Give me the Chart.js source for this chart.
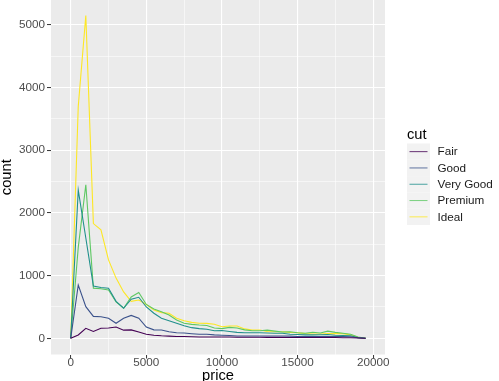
<!DOCTYPE html>
<html>
<head>
<meta charset="utf-8">
<script src="https://cdn.jsdelivr.net/npm/chart.js@4.4.1/dist/chart.umd.min.js"></script>
<style>
  html, body { margin: 0; padding: 0; background: #fff; }
  #wrap { width: 499px; height: 381px; position: relative; }
</style>
</head>
<body>
<div id="wrap"><canvas id="chart" width="499" height="381"></canvas></div>
<script>
// freqpoly of price by cut (binwidth 500), counts
const prices = [0, 500, 1000, 1500, 2000, 2500, 3000, 3500, 4000, 4500,
  5000, 5500, 6000, 6500, 7000, 7500, 8000, 8500, 9000, 9500,
  10000, 10500, 11000, 11500, 12000, 12500, 13000, 13500, 14000, 14500,
  15000, 15500, 16000, 16500, 17000, 17500, 18000, 18500, 19000, 19500];

const fair = [0, 53, 160, 110, 160, 165, 180, 130, 135, 100,
  65, 50, 40, 35, 30, 28, 25, 22, 22, 20,
  20, 20, 18, 18, 16, 16, 15, 15, 15, 14,
  14, 14, 12, 12, 12, 12, 10, 10, 4, 0];

const good = [0, 850, 505, 350, 345, 320, 240, 320, 365, 320,
  180, 135, 133, 106, 90, 85, 74, 65, 65, 55,
  50, 45, 38, 38, 38, 38, 38, 36, 36, 35,
  30, 30, 30, 30, 30, 30, 28, 26, 8, 0];

const veryGood = [0, 2365, 1600, 835, 810, 800, 590, 480, 625, 655,
  500, 400, 320, 280, 240, 200, 170, 155, 145, 120,
  125, 110, 95, 90, 90, 88, 85, 82, 80, 65,
  60, 55, 55, 58, 62, 50, 45, 40, 10, 0];

const premium = [0, 1450, 2450, 800, 790, 770, 580, 480, 660, 730,
  540, 467, 425, 372, 292, 239, 223, 212, 205, 165,
  155, 175, 165, 135, 120, 120, 130, 115, 100, 105,
  90, 80, 96, 85, 115, 95, 80, 65, 20, 0];

const ideal = [0, 3700, 5150, 1830, 1730, 1250, 960, 740, 590, 610,
  540, 450, 410, 400, 320, 280, 255, 240, 239, 225,
  185, 196, 196, 150, 132, 132, 110, 106, 106, 95,
  90, 75, 70, 70, 75, 75, 75, 55, 15, 0];

const cuts = ['Fair', 'Good', 'Very Good', 'Premium', 'Ideal'];
const cutColors = ['#440154', '#3B528B', '#21908C', '#5DC863', '#FDE725'];

const xMajor = [0, 5000, 10000, 15000, 20000];
const xMinor = [2500, 7500, 12500, 17500];
const yMajor = [0, 1000, 2000, 3000, 4000, 5000];
const yMinor = [500, 1500, 2500, 3500, 4500];

const FONT = '"Liberation Sans", Arial, sans-serif';

const series = [fair, good, veryGood, premium, ideal];

const panelBg = {
  id: 'panelBg',
  beforeDraw(chart) {
    const { ctx, chartArea: a } = chart;
    ctx.save();
    ctx.fillStyle = '#EBEBEB';
    ctx.fillRect(a.left, a.top, a.right - a.left, a.bottom - a.top);
    ctx.restore();
  }
};

const ggLegend = {
  id: 'ggLegend',
  afterDraw(chart) {
    const ctx = chart.ctx;
    const x0 = 407, keyW = 23, keyH = 16.3, top = 143.5;
    ctx.save();
    ctx.fillStyle = '#000';
    ctx.font = '14.7px ' + FONT;
    ctx.textBaseline = 'middle';
    ctx.fillText('cut', x0, 134.5);
    cuts.forEach((name, i) => {
      const y = top + i * keyH;
      ctx.fillStyle = '#F2F2F2';
      ctx.fillRect(x0, y, keyW, keyH);
      ctx.strokeStyle = cutColors[i];
      ctx.globalAlpha = 0.8;
      ctx.lineWidth = 1;
      ctx.beginPath();
      ctx.moveTo(x0 + 2.5, y + keyH / 2);
      ctx.lineTo(x0 + keyW - 2.5, y + keyH / 2);
      ctx.stroke();
      ctx.globalAlpha = 1;
      ctx.fillStyle = '#1A1A1A';
      ctx.font = '11.7px ' + FONT;
      ctx.fillText(name, 437.5, y + keyH / 2 + 0.5);
    });
    ctx.restore();
  }
};

const datasets = cuts.map((name, i) => ({
  label: name,
  data: prices.map((p, j) => ({ x: p, y: series[i][j] })),
  borderColor: cutColors[i],
  borderWidth: 1.1,
  pointRadius: 0,
  tension: 0,
  fill: false
}));

new Chart(document.getElementById('chart'), {
  type: 'line',
  data: { datasets },
  options: {
    responsive: false,
    animation: false,
    layout: { padding: { left: 0, right: 114, top: 0, bottom: 0 } },
    plugins: { legend: { display: false }, tooltip: { enabled: false } },
    scales: {
      x: {
        type: 'linear',
        min: -1302,
        max: 20780,
        afterBuildTicks: s => { s.ticks = xMajor.concat(xMinor).sort((a, b) => a - b).map(v => ({ value: v })); },
        afterFit: s => { s.height = 26.5; s.paddingLeft = 0; s.paddingRight = 0; },
        border: { display: false },
        grid: {
          color: '#FFFFFF',
          lineWidth: c => (c.tick && xMajor.includes(c.tick.value)) ? 1.1 : 0.55,
          tickColor: c => (c.tick && xMajor.includes(c.tick.value)) ? '#333333' : 'rgba(0,0,0,0)',
          tickLength: 4,
          tickWidth: 1
        },
        ticks: {
          autoSkip: false,
          maxRotation: 0,
          padding: -2,
          color: '#4D4D4D',
          font: { family: FONT, size: 11.7, lineHeight: 1 },
          callback: v => xMajor.includes(v) ? String(v) : ''
        },
        title: {
          display: true,
          text: 'price',
          color: '#000',
          font: { family: FONT, size: 14.7, lineHeight: 1 },
          padding: { top: 0, bottom: -2.5 }
        }
      },
      y: {
        type: 'linear',
        min: -258,
        max: 5396,
        afterBuildTicks: s => { s.ticks = yMajor.concat(yMinor).sort((a, b) => a - b).map(v => ({ value: v })); },
        afterFit: s => { s.width = 51; s.paddingTop = 0; s.paddingBottom = 0; },
        border: { display: false },
        grid: {
          color: '#FFFFFF',
          lineWidth: c => (c.tick && yMajor.includes(c.tick.value)) ? 1.1 : 0.55,
          tickColor: c => (c.tick && yMajor.includes(c.tick.value)) ? '#333333' : 'rgba(0,0,0,0)',
          tickLength: 4,
          tickWidth: 1
        },
        ticks: {
          autoSkip: false,
          padding: 2,
          color: '#4D4D4D',
          font: { family: FONT, size: 11.7 },
          callback: v => yMajor.includes(v) ? String(v) : ''
        },
        title: {
          display: true,
          text: 'count',
          color: '#000',
          font: { family: FONT, size: 14.7, lineHeight: 1 },
          padding: { top: 0, bottom: 0 }
        }
      }
    }
  },
  plugins: [panelBg, ggLegend]
});
</script>
</body>
</html>
